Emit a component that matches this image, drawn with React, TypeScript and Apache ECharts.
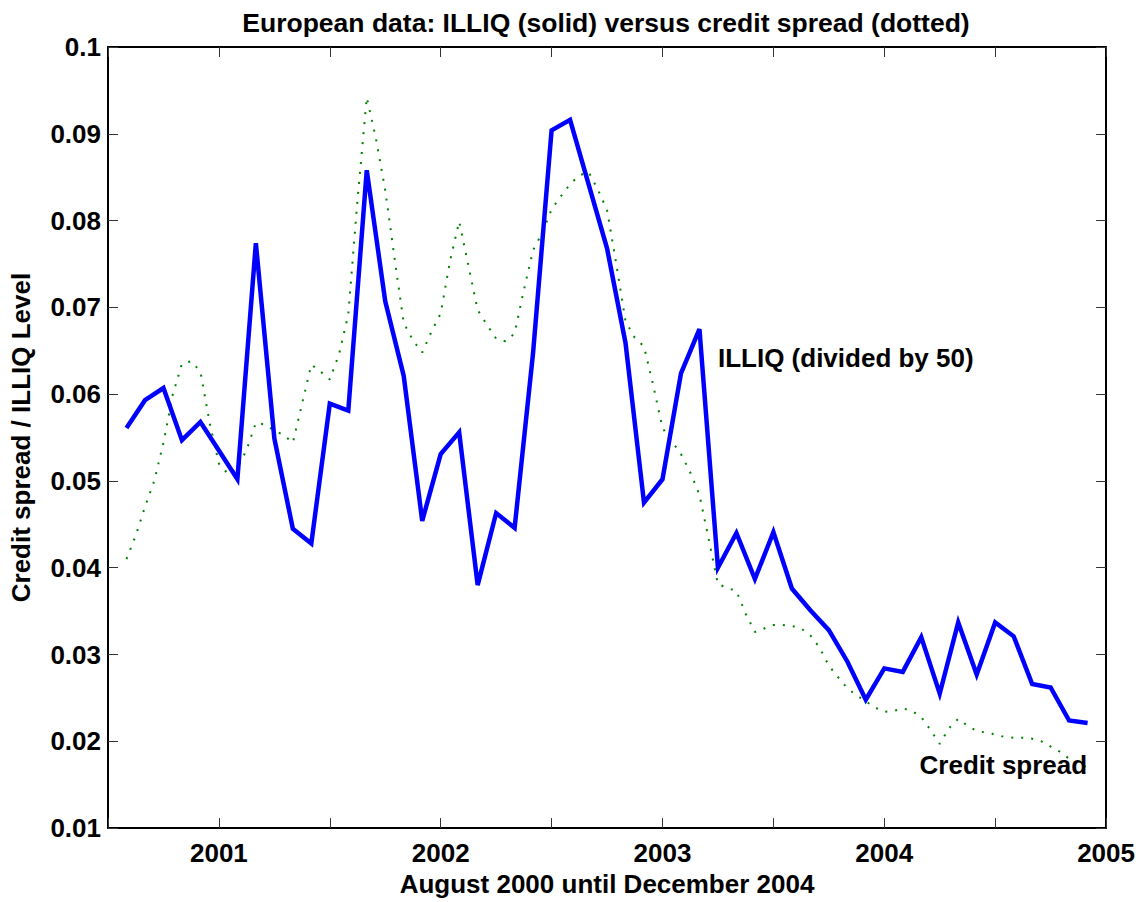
import React, { useEffect, useRef } from 'react';
import * as echarts from 'echarts';

// monthly ILLIQ (divided by 50), Aug 2000 .. Dec 2004
const START_YEAR = 2000;
const START_MONTH = 8;
const illiq = [
  0.0561, 0.0593, 0.0607, 0.0547, 0.0568,
  0.0535, 0.0502, 0.0774, 0.0549, 0.0445, 0.0428, 0.0589, 0.0581, 0.0858, 0.0707, 0.0621, 0.0454,
  0.0531, 0.0556, 0.0380, 0.0463, 0.0446, 0.0648, 0.0904, 0.0916, 0.0842, 0.0768, 0.0659, 0.0475,
  0.0502, 0.0624, 0.0675, 0.0400, 0.0440, 0.0387, 0.0441, 0.0376, 0.0351, 0.0328, 0.0292, 0.0248,
  0.0284, 0.0280, 0.0320, 0.0255, 0.0337, 0.0277, 0.0337, 0.0321, 0.0266, 0.0262, 0.0224, 0.0221
];

// credit spread, read every half month from Aug 2000
const creditSpread = [
  0.0410, 0.0437, 0.0470, 0.0500, 0.0544, 0.0599, 0.0635, 0.0638, 0.0626, 0.0567,
  0.0520, 0.0508, 0.0515, 0.0536, 0.0567, 0.0565, 0.0558, 0.0553, 0.0544, 0.0589,
  0.0634, 0.0626, 0.0617, 0.0646, 0.0692, 0.0824, 0.0942, 0.0894, 0.0835, 0.0757,
  0.0682, 0.0662, 0.0648, 0.0672, 0.0693, 0.0753, 0.0799, 0.0748, 0.0697, 0.0680,
  0.0664, 0.0661, 0.0670, 0.0720, 0.0766, 0.0786, 0.0813, 0.0828, 0.0842, 0.0852,
  0.0856, 0.0836, 0.0812, 0.0750, 0.0684, 0.0665, 0.0655, 0.0610, 0.0561, 0.0546,
  0.0531, 0.0510, 0.0484, 0.0433, 0.0381, 0.0377, 0.0373, 0.0347, 0.0326, 0.0330,
  0.0334, 0.0334, 0.0333, 0.0330, 0.0322, 0.0308, 0.0287, 0.0274, 0.0261, 0.0253,
  0.0246, 0.0239, 0.0234, 0.0235, 0.0238, 0.0235, 0.0228, 0.0213, 0.0197, 0.0215,
  0.0226, 0.0218, 0.0212, 0.0210, 0.0208, 0.0205, 0.0204, 0.0204, 0.0203, 0.0200,
  0.0194, 0.0188, 0.0180, 0.0174, 0.0170
];

const X_MIN = 2000.5;
const X_MAX = 2005;
const Y_MIN = 0.01;
const Y_MAX = 0.1;

const titleText = 'European data: ILLIQ (solid) versus credit spread (dotted)';
const xName = 'August 2000 until December 2004';
const yName = 'Credit spread / ILLIQ Level';
// annotation anchors (year, value)
const illiqLabel = { text: 'ILLIQ (divided by 50)', at: [2003.25, 0.0642] };
const creditLabel = { text: 'Credit spread', at: [2004.159, 0.0173] };

const FONT = '"Liberation Sans", Arial, Helvetica, sans-serif';
const FS = 26;

const App: React.FC = () => {
  const chartRef = useRef<HTMLDivElement>(null);

  useEffect(() => {
    if (!chartRef.current) return;
    const chart = echarts.init(chartRef.current, undefined, { renderer: 'svg' });

    const t0 = START_YEAR + (START_MONTH - 1) / 12;
    const illiqData = illiq.map((v, i) => [t0 + i / 12, v]);
    const creditData = creditSpread.map((v, k) => [t0 + k / 24, v]);

    const textBase = { color: '#000', fontWeight: 'bold' as const, fontFamily: FONT, fontSize: FS };
    const boxLine = { show: true, onZero: false, lineStyle: { color: '#000', width: 2 } };
    const tick = { show: true, inside: true, length: 10, lineStyle: { color: '#333', width: 1 } };

    const option: echarts.EChartsOption = {
      animation: false,
      backgroundColor: '#fff',
      grid: { left: 107, right: 31, top: 47, bottom: 72, containLabel: false },
      graphic: [
        {
          type: 'text',
          x: 606,
          y: 23,
          style: {
            text: titleText,
            align: 'center',
            verticalAlign: 'middle',
            fill: '#000',
            font: `bold ${FS + 0.5}px ${FONT}`
          }
        }
      ],
      xAxis: [
        {
          type: 'value',
          position: 'bottom',
          min: X_MIN,
          max: X_MAX,
          interval: 0.5,
          name: xName,
          nameLocation: 'middle',
          nameGap: 40,
          nameTextStyle: textBase,
          axisLine: boxLine,
          axisTick: tick,
          splitLine: { show: false },
          axisLabel: {
            ...textBase,
            margin: 12,
            formatter: (v: number) => (Math.abs(v - Math.round(v)) < 1e-6 ? String(Math.round(v)) : '')
          }
        },
        {
          type: 'value',
          position: 'top',
          min: X_MIN,
          max: X_MAX,
          interval: 0.5,
          axisLine: boxLine,
          axisTick: tick,
          axisLabel: { show: false },
          splitLine: { show: false }
        }
      ],
      yAxis: [
        {
          type: 'value',
          position: 'left',
          min: Y_MIN,
          max: Y_MAX,
          interval: 0.01,
          name: yName,
          nameLocation: 'middle',
          nameRotate: 90,
          nameGap: 74,
          nameTextStyle: textBase,
          axisLine: boxLine,
          axisTick: tick,
          splitLine: { show: false },
          axisLabel: {
            ...textBase,
            margin: 7,
            formatter: (v: number) => String(parseFloat(v.toFixed(2)))
          }
        },
        {
          type: 'value',
          position: 'right',
          min: Y_MIN,
          max: Y_MAX,
          interval: 0.01,
          axisLine: boxLine,
          axisTick: tick,
          axisLabel: { show: false },
          splitLine: { show: false }
        }
      ],
      series: [
        {
          name: 'Credit spread',
          type: 'line',
          xAxisIndex: 0,
          yAxisIndex: 0,
          data: creditData,
          showSymbol: false,
          lineStyle: { color: '#008000', width: 2, type: [2, 8] },
          markPoint: {
            symbol: 'circle',
            symbolSize: 0,
            data: [{ coord: creditLabel.at }],
            label: {
              show: true,
              position: 'right',
              distance: 0,
              formatter: creditLabel.text,
              ...textBase
            }
          }
        },
        {
          name: 'ILLIQ',
          type: 'line',
          xAxisIndex: 0,
          yAxisIndex: 0,
          data: illiqData,
          showSymbol: false,
          lineStyle: { color: '#0000ff', width: 4.5, join: 'miter' },
          markPoint: {
            symbol: 'circle',
            symbolSize: 0,
            data: [{ coord: illiqLabel.at }],
            label: {
              show: true,
              position: 'right',
              distance: 0,
              formatter: illiqLabel.text,
              ...textBase
            }
          }
        }
      ]
    };

    chart.setOption(option);
    return () => {
      chart.dispose();
    };
  }, []);

  return (
    <div
      ref={chartRef}
      style={{ position: 'fixed', left: 0, top: 0, width: '1138px', height: '902px', background: '#fff' }}
    />
  );
};

export default App;
